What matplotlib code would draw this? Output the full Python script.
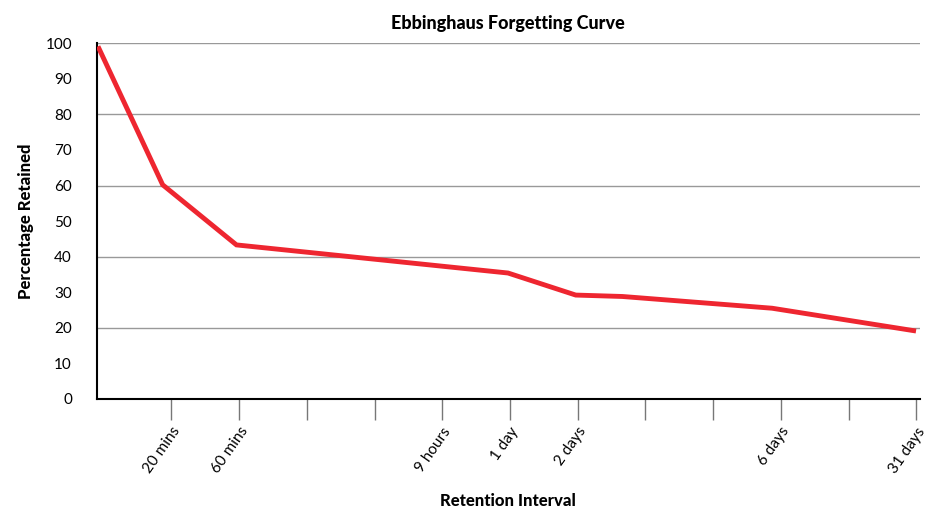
import matplotlib
matplotlib.use("Agg")
import matplotlib.pyplot as plt

tick_pos = [1,2,3,4,5,6,7,8,9,10,11,12]
tick_labels = ["20 mins","60 mins","","","9 hours","1 day","2 days","","","6 days","","31 days"]
x_vals = [-0.07, 0.87, 1.96, 5.97, 6.97, 7.66, 9.87, 11.96]
y_vals = [98.5, 60.2, 43.3, 35.4, 29.2, 28.8, 25.5, 19.2]

plt.rcParams['font.family'] = ['Lato', 'DejaVu Sans']
fig = plt.figure(figsize=(9.36, 5.27), dpi=100)
ax = fig.add_axes([0.1036, 0.243, 0.879, 0.675])
ax.plot(x_vals, y_vals, color='#ee2630', lw=3.5, solid_joinstyle='miter', zorder=3)
ax.set_xlim(-0.1, 12.05)
ax.set_ylim(0, 100)
ax.set_yticks(range(0, 101, 10))
ax.tick_params(axis='y', length=0, labelsize=11, pad=18)
for g in [20, 40, 60, 80, 100]:
    ax.axhline(g, color='#999999', lw=1, zorder=1)
ax.set_xticks(tick_pos)
ax.set_xticklabels(tick_labels, rotation=55, ha='right', rotation_mode='anchor', fontsize=11)
ax.tick_params(axis='x', length=15, width=1, color='#777777', direction='out')
for s in ['top', 'right']:
    ax.spines[s].set_visible(False)
ax.spines['left'].set_color('black')
ax.spines['bottom'].set_color('black')
ax.spines['left'].set_linewidth(1.5)
ax.spines['bottom'].set_linewidth(1.5)
ax.set_title("Ebbinghaus Forgetting Curve", fontsize=13, fontweight='black', pad=10)
ax.set_ylabel("Percentage Retained", fontsize=12, fontweight='black', labelpad=8)
fig.text(0.543, 0.04, "Retention Interval", ha='center', fontsize=12, fontweight='black')
fig.savefig("out.png", dpi=100)
